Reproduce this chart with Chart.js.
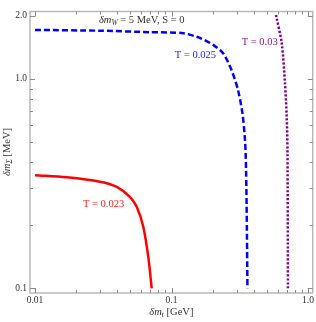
<!DOCTYPE html>
<html lang="en">
<head>
  <meta charset="UTF-8" />
  <title>T contours</title>
  <script src="https://cdn.jsdelivr.net/npm/chart.js"></script>
  <style>
    body { margin: 0; background: #ffffff; overflow: hidden; }
    #wrap { position: relative; width: 316px; height: 322px; }
  </style>
</head>
<body>
  <div id="wrap"><canvas id="plot"></canvas></div>
  <script>
    // data (x: δm_t in GeV, y: δm_Σ in MeV)
    const redX = [0.01, 0.0171, 0.0299, 0.0397, 0.0497, 0.0556, 0.0621, 0.0676, 0.0716];
    const redY = [0.347, 0.339, 0.323, 0.305, 0.273, 0.245, 0.197, 0.141, 0.1];
    const blueX = [0.01, 0.03, 0.0696, 0.122, 0.161, 0.202, 0.239, 0.275, 0.307, 0.331, 0.344, 0.350, 0.355, 0.360];
    const blueY = [1.715, 1.70, 1.673, 1.654, 1.57, 1.455, 1.327, 1.104, 0.886, 0.685, 0.53, 0.42, 0.25, 0.1];
    const purpleX = [0.583, 0.642, 0.678, 0.698, 0.707, 0.713];
    const purpleY = [2.02, 1.48, 0.954, 0.66, 0.458, 0.1];

    const xTickVals = [0.01, 0.1, 1];
    const xTickLabels = ['0.01', '0.1', '1.0'];
    const yTickVals = [0.1, 1, 2];
    const yTickLabels = ['0.1', '1.0', '2.0'];
    const xMinor = [0.02, 0.03, 0.04, 0.05, 0.06, 0.07, 0.08, 0.09, 0.2, 0.3, 0.4, 0.5, 0.6, 0.7, 0.8, 0.9];
    const yMinor = [0.2, 0.3, 0.4, 0.5, 0.6, 0.7, 0.8, 0.9];

    const SERIF = "'Liberation Serif', 'DejaVu Serif', serif";
    const pts = (xs, ys) => xs.map((x, i) => ({ x: x, y: ys[i] }));

    // draws a run of text pieces, some italic / subscript
    function richText(ctx, pieces, x, y, size, color) {
      ctx.fillStyle = color;
      ctx.textBaseline = 'middle';
      ctx.textAlign = 'left';
      let cx = x;
      for (const p of pieces) {
        const fs = p.sub ? size * 0.72 : size;
        ctx.font = (p.italic ? 'italic ' : '') + fs + 'px ' + SERIF;
        ctx.fillText(p.t, cx, p.sub ? y + size * 0.3 : y);
        cx += ctx.measureText(p.t).width;
      }
      return cx - x;
    }
    function richWidth(ctx, pieces, size) {
      let w = 0;
      for (const p of pieces) {
        const fs = p.sub ? size * 0.72 : size;
        ctx.font = (p.italic ? 'italic ' : '') + fs + 'px ' + SERIF;
        w += ctx.measureText(p.t).width;
      }
      return w;
    }

    const framePlugin = {
      id: 'frame',
      afterDraw(chart) {
        const { ctx, chartArea: a, scales } = chart;
        const xs = scales.x, ys = scales.y;
        ctx.save();
        ctx.strokeStyle = '#b8b8b8';
        ctx.lineWidth = 1.5;
        ctx.strokeRect(a.left, a.top, a.right - a.left, a.bottom - a.top);

        ctx.strokeStyle = '#8a8a8a';
        ctx.lineWidth = 1;
        ctx.beginPath();
        const tickX = (v, len) => {
          const px = Math.round(xs.getPixelForValue(v)) + 0.5;
          ctx.moveTo(px, a.bottom); ctx.lineTo(px, a.bottom - len);
          ctx.moveTo(px, a.top); ctx.lineTo(px, a.top + len);
        };
        const tickY = (v, len) => {
          const py = Math.round(ys.getPixelForValue(v)) + 0.5;
          ctx.moveTo(a.left, py); ctx.lineTo(a.left + len, py);
          ctx.moveTo(a.right, py); ctx.lineTo(a.right - len, py);
        };
        xTickVals.forEach(v => tickX(v, 5));
        xMinor.forEach(v => tickX(v, 3));
        yTickVals.forEach(v => tickY(v, 5));
        yMinor.forEach(v => tickY(v, 3));
        ctx.stroke();

        // in-plot labels
        const at = (x, y) => [xs.getPixelForValue(x), ys.getPixelForValue(y)];
        let p = at(0.0294, 1.916);
        richText(ctx, [
          { t: 'δm', italic: true }, { t: 'W', italic: true, sub: true },
          { t: ' = 5 MeV, S = 0' }
        ], p[0], p[1], 10.5, '#333333');
        p = at(0.1058, 1.30);
        richText(ctx, [{ t: 'T = 0.025' }], p[0], p[1], 10.5, '#1a1aff');
        p = at(0.327, 1.503);
        richText(ctx, [{ t: 'T = 0.03' }], p[0], p[1], 10.5, '#8a1a8a');
        p = at(0.02245, 0.252);
        richText(ctx, [{ t: 'T = 0.023' }], p[0], p[1], 10.5, '#ff2020');

        // axis titles
        const xt = [{ t: 'δm', italic: true }, { t: 't', italic: true, sub: true }, { t: ' [GeV]' }];
        const xw = richWidth(ctx, xt, 10.5);
        richText(ctx, xt, (a.left + a.right) / 2 - xw / 2, 312, 10.5, '#333333');

        const yt = [{ t: 'δm', italic: true }, { t: 'Σ', italic: true, sub: true }, { t: ' [MeV]' }];
        const yw = richWidth(ctx, yt, 10.5);
        ctx.translate(7, 152);
        ctx.rotate(-Math.PI / 2);
        richText(ctx, yt, -yw / 2, 0, 10.5, '#333333');
        ctx.restore();
      }
    };

    new Chart(document.getElementById('plot'), {
      type: 'line',
      data: {
        datasets: [
          { label: 'T = 0.023', data: pts(redX, redY), borderColor: '#ff0000', borderWidth: 2.5, tension: 0.3 },
          { label: 'T = 0.025', data: pts(blueX, blueY), borderColor: '#0000ff', borderWidth: 2.5, borderDash: [6, 3], tension: 0.25 },
          { label: 'T = 0.03', data: pts(purpleX, purpleY), borderColor: '#800080', borderWidth: 2.5, borderDash: [2.2, 1.8], tension: 0.3 }
        ]
      },
      options: {
        responsive: true,
        maintainAspectRatio: false,
        animation: false,
        layout: { padding: { top: 11.5, right: 3, left: 0, bottom: 0 } },
        elements: { point: { radius: 0 } },
        plugins: { legend: { display: false }, tooltip: { enabled: false } },
        scales: {
          x: {
            type: 'logarithmic',
            min: 0.00919,
            max: 1.083,
            grid: { display: false, drawTicks: false },
            border: { display: false },
            afterBuildTicks: s => { s.ticks = xTickVals.map(v => ({ value: v })); },
            afterFit: s => { s.height = 29; },
            ticks: {
              autoSkip: false, maxRotation: 0, padding: 2,
              color: '#333333',
              font: { family: SERIF, size: 9.5 },
              callback: (v) => xTickLabels[xTickVals.indexOf(v)]
            }
          },
          y: {
            type: 'logarithmic',
            min: 0.095,
            max: 2.1,
            grid: { display: false, drawTicks: false },
            border: { display: false },
            afterBuildTicks: s => { s.ticks = yTickVals.map(v => ({ value: v })); },
            afterFit: s => { s.width = 30; },
            ticks: {
              autoSkip: false, padding: 3,
              color: '#333333',
              font: { family: SERIF, size: 9.5 },
              callback: (v) => yTickLabels[yTickVals.indexOf(v)]
            }
          }
        }
      },
      plugins: [framePlugin]
    });
  </script>
</body>
</html>
